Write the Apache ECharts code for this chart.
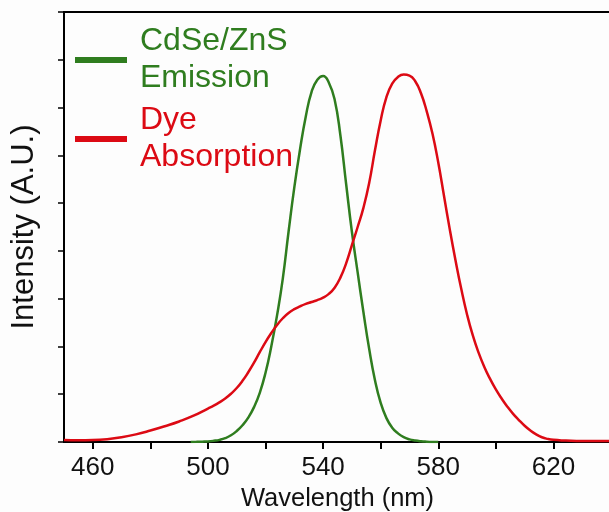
<!DOCTYPE html>
<html>
<head>
<meta charset="utf-8">
<script src="https://cdn.jsdelivr.net/npm/echarts@6/dist/echarts.min.js"></script>
<style>html,body{margin:0;padding:0;background:#fdfdfd;}#c{width:609px;height:512px;}</style>
</head>
<body>
<div id="c"></div>
<script>
const emissionName = 'CdSe/ZnS\nEmission';
const absorptionName = 'Dye\nAbsorption';
const xTickValues = [460, 480, 500, 520, 540, 560, 580, 600, 620, 640];
const xLabelValues = [460, 500, 540, 580, 620];

const emissionX = [494,496,498,500,502,504,506,508,510,512,514,516,518,520,522,524,526,528,530,532,534,536,538,540,542,544,546,548,550,552,554,556,558,560,562,564,566,568,570,572,574,576,578,580];
const emissionY = [0,0.003,0.007,0.012,0.025,0.045,0.08,0.14,0.23,0.35,0.51,0.73,1.03,1.45,2.0,2.65,3.42,4.4,5.33,6.13,6.82,7.33,7.58,7.66,7.52,7.17,6.42,5.4,4.4,3.55,2.72,1.95,1.3,0.82,0.5,0.3,0.18,0.1,0.055,0.03,0.015,0.007,0.002,0];

const absorptionX = [450,455,460,465,470,475,480,485,490,495,500,502,504,506,508,510,512,514,516,518,520,522,524,526,528,530,532,534,536,538,540,542,544,546,548,550,552,554,556,558,560,562,564,566,568,570,572,574,576,578,580,582,584,586,588,590,592,594,596,598,600,602,604,606,608,610,612,614,616,618,620,624,628,632,640];
const absorptionY = [0.04,0.035,0.04,0.06,0.1,0.16,0.24,0.33,0.43,0.55,0.7,0.76,0.83,0.91,1.01,1.13,1.28,1.46,1.66,1.88,2.09,2.28,2.45,2.59,2.7,2.78,2.84,2.89,2.93,2.97,3.02,3.1,3.23,3.44,3.74,4.12,4.5,4.9,5.42,6.1,6.73,7.22,7.5,7.64,7.69,7.67,7.55,7.3,6.92,6.45,5.85,5.15,4.45,3.8,3.2,2.67,2.23,1.87,1.57,1.32,1.1,0.91,0.74,0.59,0.46,0.34,0.24,0.16,0.1,0.065,0.045,0.03,0.022,0.02,0.02];

const green = '#2f7d1f';
const red = '#dc0a14';
const font = 'Liberation Sans, Arial, sans-serif';

const chart = echarts.init(document.getElementById('c'), null, {renderer: 'canvas'});
chart.setOption({
  backgroundColor: '#fdfdfd',
  animation: false,
  grid: {left: 64, right: -2, top: 12, bottom: 70, outerBoundsMode: 'none', containLabel: false, show: true, borderColor: '#000', borderWidth: 2, backgroundColor: 'transparent'},
  legend: {
    orient: 'vertical', left: 75, top: 23, padding: 0, icon: 'rect', itemWidth: 52, itemHeight: 6, itemGap: 5,
    data: [
      {name: emissionName, textStyle: {color: green}},
      {name: absorptionName, textStyle: {color: red}}
    ],
    textStyle: {fontFamily: font, fontSize: 32, lineHeight: 37, padding: [0, 0, 0, 8]}
  },
  xAxis: {
    type: 'value', min: 450, max: 640,
    name: 'Wavelength (nm)', nameLocation: 'middle', nameGap: 42,
    nameTextStyle: {fontFamily: font, fontSize: 25.5, color: '#111'},
    axisLine: {lineStyle: {color: '#000', width: 2}},
    axisTick: {show: true, length: 7, lineStyle: {color: '#000', width: 2}, customValues: xTickValues},
    axisLabel: {fontFamily: font, fontSize: 26, color: '#111', margin: 13, customValues: xLabelValues},
    splitLine: {show: false}
  },
  yAxis: {
    type: 'value', min: 0, max: 9, interval: 1,
    name: 'Intensity (A.U.)', nameLocation: 'middle', nameGap: 24,
    nameTextStyle: {fontFamily: font, fontSize: 31, color: '#111'},
    axisLine: {lineStyle: {color: '#000', width: 2}},
    axisTick: {show: true, length: 6, lineStyle: {color: '#000', width: 1.5}},
    axisLabel: {show: false},
    splitLine: {show: false}
  },
  series: [
    {name: emissionName, type: 'line', smooth: 0.5, showSymbol: false, color: green,
     lineStyle: {color: green, width: 2.5},
     data: emissionX.map((x, i) => [x, emissionY[i]])},
    {name: absorptionName, type: 'line', smooth: 0.5, showSymbol: false, color: red,
     lineStyle: {color: red, width: 2.5},
     data: absorptionX.map((x, i) => [x, absorptionY[i]])}
  ]
});
</script>
</body>
</html>
